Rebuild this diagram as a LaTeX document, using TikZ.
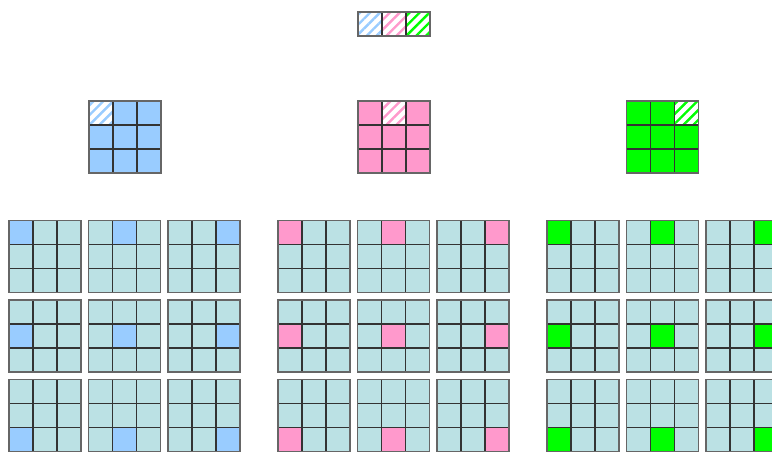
\documentclass[tikz,border=0pt]{standalone}
\usepackage{tikz}
\usetikzlibrary{patterns.meta}
\definecolor{patchblue}{RGB}{153,204,255}
\definecolor{patchpink}{RGB}{255,153,204}
\definecolor{patchgreen}{RGB}{0,255,0}
\definecolor{cellbg}{RGB}{187,225,228}
% inner lines and frame of one 3x3 grid, top-left corner at (#1,#2)
\newcommand{\GridLines}[2]{%
  \draw[cellline] ({#1+24},#2) -- ++(0,72) ({#1+48},#2) -- ++(0,72)
    (#1,{#2+24}) -- ++(72,0) (#1,{#2+48}) -- ++(72,0);
  \draw[frameline] (#1,#2) rectangle ++(72,72);}
% grid of plain cells with one coloured cell (column #3, row #4)
\newcommand{\PatchGrid}[5]{%
  \fill[cellbg] (#1,#2) rectangle ++(72,72);
  \fill[#5] ({#1+24*#3},{#2+24*#4}) rectangle ++(24,24);
  \GridLines{#1}{#2}}
% coloured grid with one hatched cell in the top row (column #3)
\newcommand{\SeedGrid}[4]{%
  \fill[#4] (#1,#2) rectangle ++(72,72);
  \fill[white] ({#1+24*#3},#2) rectangle ++(24,24);
  \fill[hatch=#4] ({#1+24*#3},#2) rectangle ++(24,24);
  \GridLines{#1}{#2}}

\begin{document}
\begin{tikzpicture}[
  x=1pt, y=-1pt,
  cellline/.style={draw=black!80, line width=1.1pt},
  frameline/.style={draw=black!60, line width=1.6pt},
  hatch/.style={pattern={Lines[angle=45,distance=7pt,line width=2.4pt]}, pattern color=#1}
]
\useasboundingbox (0,0) rectangle (772,452);
\clip (0,0) rectangle (772,452);

% Top: hatched strip
\fill[white] (358,12) rectangle ++(72,24);
\fill[hatch=patchblue] (358,12) rectangle ++(24,24);
\fill[hatch=patchpink] (382,12) rectangle ++(24,24);
\fill[hatch=patchgreen] (406,12) rectangle ++(24,24);
\draw[cellline] (382,12) -- ++(0,24) (406,12) -- ++(0,24);
\draw[frameline] (358,12) rectangle ++(72,24);

% Middle: coloured grids
\SeedGrid{89}{101}{0}{patchblue}
\SeedGrid{358}{101}{1}{patchpink}
\SeedGrid{626.5}{101}{2}{patchgreen}

% Bottom, row 1
\PatchGrid{9}{220.5}{0}{0}{patchblue}
\PatchGrid{88.5}{220.5}{1}{0}{patchblue}
\PatchGrid{168}{220.5}{2}{0}{patchblue}
\PatchGrid{278}{220.5}{0}{0}{patchpink}
\PatchGrid{357.5}{220.5}{1}{0}{patchpink}
\PatchGrid{437}{220.5}{2}{0}{patchpink}
\PatchGrid{547}{220.5}{0}{0}{patchgreen}
\PatchGrid{626.5}{220.5}{1}{0}{patchgreen}
\PatchGrid{706}{220.5}{2}{0}{patchgreen}

% Bottom, row 2
\PatchGrid{9}{300}{0}{1}{patchblue}
\PatchGrid{88.5}{300}{1}{1}{patchblue}
\PatchGrid{168}{300}{2}{1}{patchblue}
\PatchGrid{278}{300}{0}{1}{patchpink}
\PatchGrid{357.5}{300}{1}{1}{patchpink}
\PatchGrid{437}{300}{2}{1}{patchpink}
\PatchGrid{547}{300}{0}{1}{patchgreen}
\PatchGrid{626.5}{300}{1}{1}{patchgreen}
\PatchGrid{706}{300}{2}{1}{patchgreen}

% Bottom, row 3
\PatchGrid{9}{379.5}{0}{2}{patchblue}
\PatchGrid{88.5}{379.5}{1}{2}{patchblue}
\PatchGrid{168}{379.5}{2}{2}{patchblue}
\PatchGrid{278}{379.5}{0}{2}{patchpink}
\PatchGrid{357.5}{379.5}{1}{2}{patchpink}
\PatchGrid{437}{379.5}{2}{2}{patchpink}
\PatchGrid{547}{379.5}{0}{2}{patchgreen}
\PatchGrid{626.5}{379.5}{1}{2}{patchgreen}
\PatchGrid{706}{379.5}{2}{2}{patchgreen}
\end{tikzpicture}
\end{document}
